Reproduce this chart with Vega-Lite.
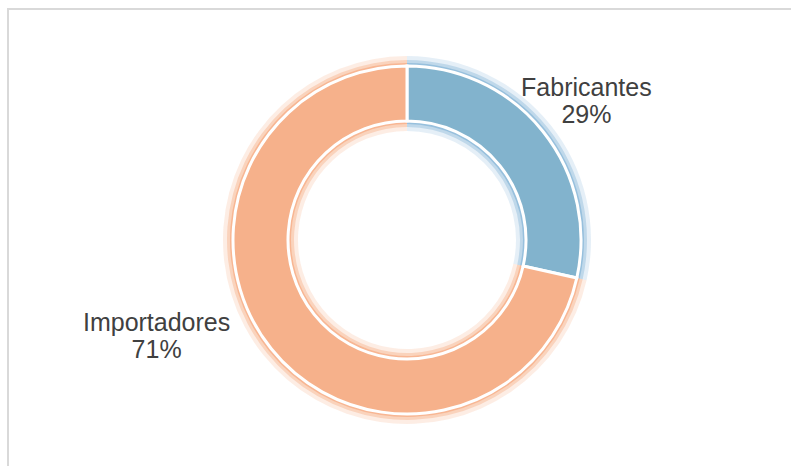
{
  "$schema": "https://vega.github.io/schema/vega-lite/v6.json",
  "width": 791,
  "height": 466,
  "autosize": {"type": "fit", "contains": "padding"},
  "padding": {"left": 8, "top": 9, "right": -15, "bottom": -5},
  "background": "white",
  "view": {"stroke": "#d9d9d9", "strokeWidth": 2, "fill": "white"},
  "data": {
    "values": [
      {"categoria": "Fabricantes", "valor": 28.5, "etiqueta": "Fabricantes\n29%"},
      {"categoria": "Importadores", "valor": 71.5, "etiqueta": "Importadores\n71%"}
    ]
  },
  "encoding": {
    "theta": {"field": "valor", "type": "quantitative", "stack": true}
  },
  "resolve": {"scale": {"color": "independent"}},
  "layer": [
    {
      "mark": {"type": "arc", "radius": 184, "radius2": 109, "opacity": 0.18},
      "encoding": {
        "color": {"field": "categoria", "type": "nominal", "legend": null,
          "scale": {"domain": ["Fabricantes", "Importadores"], "range": ["#6fa8d0", "#f59a6a"]}}
      }
    },
    {
      "mark": {"type": "arc", "radius": 180, "radius2": 113, "opacity": 0.32},
      "encoding": {
        "color": {"field": "categoria", "type": "nominal", "legend": null,
          "scale": {"domain": ["Fabricantes", "Importadores"], "range": ["#6fa8d0", "#f59a6a"]}}
      }
    },
    {
      "mark": {"type": "arc", "radius": 177, "radius2": 116, "opacity": 0.5},
      "encoding": {
        "color": {"field": "categoria", "type": "nominal", "legend": null,
          "scale": {"domain": ["Fabricantes", "Importadores"], "range": ["#6fa8d0", "#f59a6a"]}}
      }
    },
    {
      "mark": {"type": "arc", "radius": 174, "radius2": 119, "stroke": "white", "strokeWidth": 3, "opacity": 1},
      "encoding": {
        "color": {"field": "categoria", "type": "nominal", "legend": null,
          "scale": {"domain": ["Fabricantes", "Importadores"], "range": ["#82b3cd", "#f6b18b"]}}
      }
    },
    {
      "mark": {"type": "text", "radius": 235, "dx": -4, "dy": 3, "align": "center", "baseline": "alphabetic",
        "lineBreak": "\n", "font": "Liberation Sans", "fontSize": 25, "lineHeight": 27, "fill": "#404040"},
      "encoding": {
        "detail": {"field": "categoria"},
        "text": {"condition": {"test": "datum.categoria === 'Fabricantes'", "field": "etiqueta"}, "value": ""}
      }
    },
    {
      "mark": {"type": "text", "radius": 235, "dx": -67, "dy": -56, "align": "center", "baseline": "alphabetic",
        "lineBreak": "\n", "font": "Liberation Sans", "fontSize": 25, "lineHeight": 27, "fill": "#404040"},
      "encoding": {
        "detail": {"field": "categoria"},
        "text": {"condition": {"test": "datum.categoria === 'Importadores'", "field": "etiqueta"}, "value": ""}
      }
    }
  ]
}
